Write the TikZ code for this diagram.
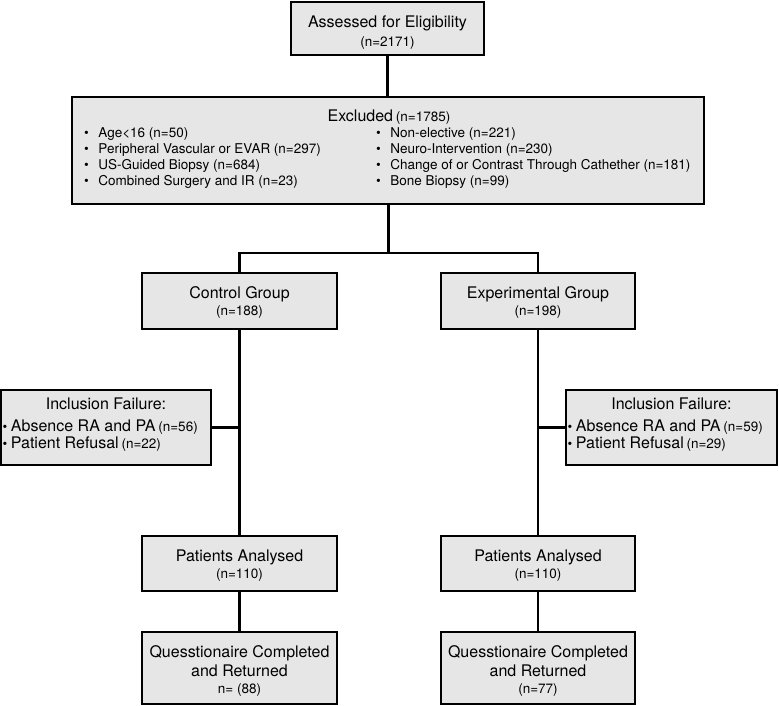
\documentclass[tikz,border=0pt]{standalone}
\usepackage{fontspec}
\setmainfont{TeX Gyre Heros}
\definecolor{boxgray}{RGB}{230,230,230}
\newcommand{\bigf}{\fontsize{16}{19}\selectfont}
\newcommand{\smallf}{\fontsize{13.5}{16}\selectfont}
\begin{document}
\begin{tikzpicture}[x=1pt,y=-1pt,
  box/.style={draw=black, line width=1.6pt, fill=boxgray, inner sep=0pt, rectangle},
  conn/.style={line width=2.8pt, line join=miter},
  bigtxt/.style={font=\bigf, inner sep=0pt, anchor=base},
  smalltxt/.style={font=\smallf, inner sep=0pt, anchor=base},
  itemtxt/.style={font=\smallf, inner sep=0pt, anchor=base west}]
\useasboundingbox (0,0) rectangle (779,705);

% boxes
\node[box, minimum width=193pt, minimum height=53pt] (top) at (387.5,28.5) {};
\node[box, minimum width=632pt, minimum height=107pt] (exc) at (388,150.5) {};
\node[box, minimum width=195pt, minimum height=56pt] (ctrl) at (239.5,301) {};
\node[box, minimum width=194pt, minimum height=56pt] (expg) at (538,301) {};
\node[box, minimum width=210pt, minimum height=75pt] (inl) at (106,427.5) {};
\node[box, minimum width=211pt, minimum height=75pt] (inr) at (671.5,427.5) {};
\node[box, minimum width=195pt, minimum height=55pt] (patl) at (239.5,563.5) {};
\node[box, minimum width=194pt, minimum height=55pt] (patr) at (538,563.5) {};
\node[box, minimum width=195pt, minimum height=72pt] (ql) at (239.5,668) {};
\node[box, minimum width=194pt, minimum height=72pt] (qr) at (538,668) {};

% connectors
\coordinate (j) at (388.5,253);
\draw[conn] (top.south) -- (top.south |- exc.north);
\draw[conn] (exc.south -| j) -- (j);
\draw[conn] (ctrl.north) -- (ctrl.north |- j) -- (expg.north |- j) -- (expg.north);
\draw[conn] (ctrl.south) -- (patl.north);
\draw[conn] (expg.south) -- (patr.north);
\draw[conn] (inl.east) -- (inl.east -| ctrl.south);
\draw[conn] (inr.west) -- (inr.west -| expg.south);
\draw[conn] (patl.south) -- (ql.north);
\draw[conn] (patr.south) -- (qr.north);

% top text
\node[bigtxt] (t1) at (387.5,27) {Assessed for Eligibility};
\node[smalltxt] (t2) at (387.5,46) {(n=2171)};

% excluded
\node[inner sep=0pt, anchor=base] (e0) at (389,121) {{\bigf Excluded} {\smallf (n=1785)}};
\node[itemtxt] (e1) at (84,137.5) {•\hspace{9.5pt}Age<16 (n=50)};
\node[itemtxt] (e2) at (84,153.5) {•\hspace{9.5pt}Peripheral Vascular or EVAR (n=297)};
\node[itemtxt] (e3) at (84,169.5) {•\hspace{9.5pt}US-Guided Biopsy (n=684)};
\node[itemtxt] (e4) at (84,185.5) {•\hspace{9.5pt}Combined Surgery and IR (n=23)};
\node[itemtxt] (e5) at (376,137.5) {•\hspace{9.5pt}Non-elective (n=221)};
\node[itemtxt] (e6) at (376,153.5) {•\hspace{9.5pt}Neuro-Intervention (n=230)};
\node[itemtxt] (e7) at (376,169.5) {•\hspace{9.5pt}Change of or Contrast Through Cathether (n=181)};
\node[itemtxt] (e8) at (376,185.5) {•\hspace{9.5pt}Bone Biopsy (n=99)};

% groups
\node[bigtxt] (c1) at (239.5,298) {Control Group};
\node[smalltxt] (c2) at (239.5,315) {(n=188)};
\node[bigtxt] (x1) at (538,298) {Experimental Group};
\node[smalltxt] (x2) at (538,315) {(n=198)};

% inclusion failures
\node[bigtxt] (il0) at (106,409) {Inclusion Failure:};
\node[inner sep=0pt, anchor=base west] (il1) at (2.5,431) {{\smallf •}\hspace{3.5pt}{\bigf Absence RA and PA} {\smallf (n=56)}};
\node[inner sep=0pt, anchor=base west] (il2) at (2.5,448) {{\smallf •}\hspace{3.5pt}{\bigf Patient Refusal} {\smallf (n=22)}};
\node[bigtxt] (ir0) at (671.5,409) {Inclusion Failure:};
\node[inner sep=0pt, anchor=base west] (ir1) at (567.5,431) {{\smallf •}\hspace{3.5pt}{\bigf Absence RA and PA} {\smallf (n=59)}};
\node[inner sep=0pt, anchor=base west] (ir2) at (567.5,448) {{\smallf •}\hspace{3.5pt}{\bigf Patient Refusal} {\smallf (n=29)}};

% patients analysed
\node[bigtxt] (p1) at (239.5,561) {Patients Analysed};
\node[smalltxt] (p2) at (239.5,578) {(n=110)};
\node[bigtxt] (p3) at (538,561) {Patients Analysed};
\node[smalltxt] (p4) at (538,578) {(n=110)};

% questionnaire
\node[bigtxt] (q1) at (239.5,657) {Quesstionaire Completed};
\node[bigtxt] (q2) at (239.5,676) {and Returned};
\node[smalltxt] (q3) at (239.5,693) {n= (88)};
\node[bigtxt] (q4) at (538,657) {Quesstionaire Completed};
\node[bigtxt] (q5) at (538,676) {and Returned};
\node[smalltxt] (q6) at (538,693) {(n=77)};
\end{tikzpicture}
\end{document}
